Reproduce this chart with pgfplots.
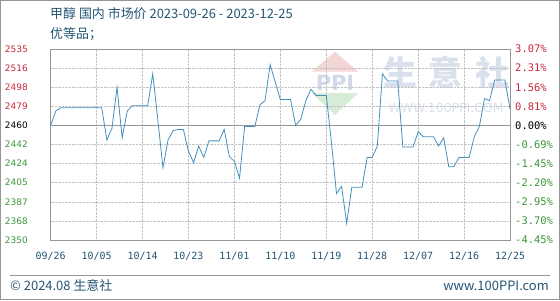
\documentclass[border=0pt]{standalone}
\usepackage{pgfplots}
\usepackage{pgfplotstable}
\pgfplotsset{compat=1.18}
\usepackage{fontspec}
\setmainfont{DejaVu Sans}
\newfontfamily\cjk{Noto Sans CJK SC}
\newfontfamily\mono{DejaVu Sans Mono}
\definecolor{titleblue}{RGB}{35,85,115}
\definecolor{tickred}{RGB}{200,40,60}
\definecolor{tickgreen}{RGB}{60,150,60}
\definecolor{linecol}{RGB}{65,145,190}
\definecolor{gridcol}{RGB}{195,195,195}
\definecolor{framecol}{RGB}{150,150,150}
\definecolor{wm}{RGB}{218,225,236}
\definecolor{wmblue}{RGB}{208,218,232}
\definecolor{wmred}{RGB}{244,214,212}
\definecolor{wmgreen}{RGB}{214,236,214}

\pgfplotstableread{
day val
0 2461
1 2475
2 2478
3 2478
4 2478
5 2478
6 2478
7 2478
8 2478
9 2478
10 2478
11 2447
12 2458
13 2498
14 2449
15 2475
16 2480
17 2480
18 2480
19 2480
20 2511
21 2466
22 2420
23 2447
24 2456
25 2457
26 2457
27 2436
28 2425
29 2441
30 2430
31 2446
32 2446
33 2446
34 2457
35 2431
36 2426
37 2410
38 2460
39 2460
40 2460
41 2481
42 2485
43 2520
44 2503
45 2486
46 2486
47 2486
48 2461
49 2467
50 2485
51 2496
52 2490
53 2490
54 2490
55 2445
56 2395
57 2402
58 2366
59 2401
60 2401
61 2401
62 2430
63 2430
64 2441
65 2511
66 2504
67 2504
68 2504
69 2440
70 2440
71 2440
72 2455
73 2450
74 2450
75 2450
76 2441
77 2449
78 2421
79 2421
80 2430
81 2430
82 2430
83 2450
84 2460
85 2487
86 2485
87 2505
88 2505
89 2505
90 2477
}\datatable

\begin{document}
\begin{tikzpicture}[x=1bp,y=1bp]
\useasboundingbox (0,0) rectangle (560,300);
\draw[framecol] (0.5,0.5) rectangle (559.5,299.5);
% watermark
\fill[wmred] (311.7,228.3) -- (358.3,228.3) -- (335,248.3) -- cycle;
\fill[wmgreen] (311.7,207) -- (358.3,207) -- (335,185) -- cycle;
\node[wmblue, font=\fontsize{21}{21}\selectfont\bfseries] at (335,217) {PPI};
\node[wm, font=\cjk\bfseries\fontsize{34}{34}\selectfont] at (400,228) {生};
\node[wm, font=\cjk\bfseries\fontsize{34}{34}\selectfont] at (445,228) {意};
\node[wm, font=\cjk\bfseries\fontsize{34}{34}\selectfont] at (492,228) {社};
\node[wm, font=\fontsize{12.5}{12.5}\selectfont] at (446,192) {WWW.100PPI.COM};
% titles
\node[anchor=west, inner sep=0pt, text=titleblue, font=\cjk\fontsize{13}{13}\selectfont] at (50,286) {甲醇 国内 市场价 2023-09-26 - 2023-12-25};
\node[anchor=west, inner sep=0pt, text=titleblue, font=\cjk\fontsize{13}{13}\selectfont] at (50,266) {优等品；};
% footer
\draw[framecol] (10,25) -- (550,25);
\node[anchor=west, inner sep=0pt, text=titleblue, font=\cjk\fontsize{13}{13}\selectfont] at (10,14) {© 2024.08 生意社};
\node[anchor=east, inner sep=0pt, text=titleblue, font=\cjk\fontsize{13}{13}\selectfont] at (549,14) {www.100PPI.com};

\begin{axis}[
  at={(50.7bp,60bp)}, anchor=south west,
  scale only axis, width=459.3bp, height=191bp,
  xmin=0, xmax=90, ymin=2350, ymax=2535,
  xtick={0,9,18,27,36,45,54,63,72,81,90},
  xticklabels={09/26,10/05,10/14,10/23,11/01,11/10,11/19,11/28,12/07,12/16,12/25},
  ytick={2350,2368.5,2387,2405.5,2424,2442.5,2461,2479.5,2498,2516.5,2535},
  yticklabels={\textcolor{tickgreen}{2350},\textcolor{tickgreen}{2368},\textcolor{tickgreen}{2387},\textcolor{tickgreen}{2405},\textcolor{tickgreen}{2424},\textcolor{tickgreen}{2442},2460,\textcolor{tickred}{2479},\textcolor{tickred}{2498},\textcolor{tickred}{2516},\textcolor{tickred}{2535}},
  extra y ticks={2461}, extra y tick labels={},
  extra y tick style={grid style={solid, draw=framecol, line width=0.8pt}},
  major tick length=0pt,
  grid=major,
  grid style={densely dotted, draw=gridcol, line width=0.5pt},
  axis line style={draw=framecol, line width=0.8pt},
  xticklabel style={anchor=center, yshift=-16.7bp, font=\mono\fontsize{10}{10}\selectfont, text=titleblue},
  yticklabel style={anchor=west, inner sep=0pt, xshift=-46bp, font=\fontsize{9}{9}\selectfont},
  clip=true,
]
\addplot[linecol, line width=0.8pt, mark=none] table[x=day, y=val] {\datatable};
\end{axis}

\begin{axis}[
  at={(50.7bp,60bp)}, anchor=south west,
  scale only axis, width=459.3bp, height=191bp,
  xmin=0, xmax=90, ymin=2350, ymax=2535,
  hide x axis, axis y line*=right,
  axis line style={draw=none},
  major tick length=0pt,
  ytick={2350,2368.5,2387,2405.5,2424,2442.5,2461,2479.5,2498,2516.5,2535},
  yticklabels={\textcolor{tickgreen}{-4.45\%},\textcolor{tickgreen}{-3.70\%},\textcolor{tickgreen}{-2.95\%},\textcolor{tickgreen}{-2.20\%},\textcolor{tickgreen}{-1.45\%},\textcolor{tickgreen}{-0.69\%},0.00\%,\textcolor{tickred}{0.81\%},\textcolor{tickred}{1.56\%},\textcolor{tickred}{2.31\%},\textcolor{tickred}{3.07\%}},
  yticklabel style={anchor=west, inner sep=0pt, xshift=5bp, font=\mono\fontsize{10.5}{10.5}\selectfont},
]
\addplot[draw=none] coordinates {(0,2461)};
\end{axis}
\end{tikzpicture}
\end{document}
